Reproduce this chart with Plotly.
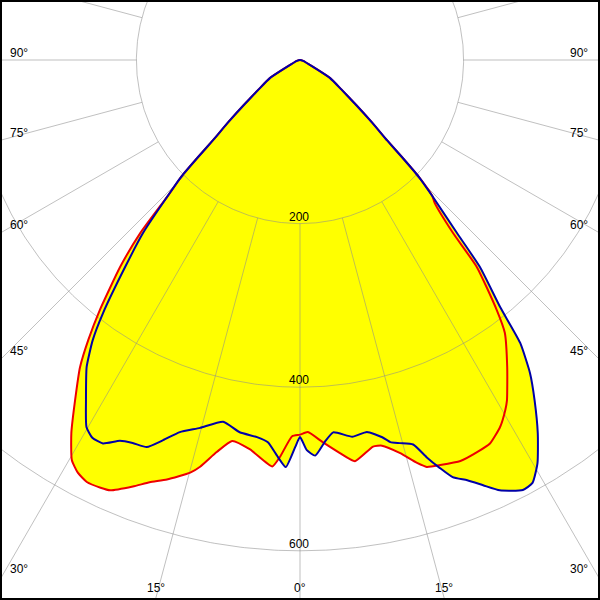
import numpy as np
import plotly.graph_objects as go

# Photometric data: angle from nadir (0° = straight down), negative = left half; intensity in cd
red_angles = [-90, -75, -62, -59, -54.6, -51.3, -49.1, -47.3, -46.4, -45.5, -44.2,
              -42.7, -41.0, -38.7, -37.1, -35.6, -33.5, -31.5, -29.7, -28.3, -26.8,
              -25.0, -23.8, -21.4, -19.6, -17.6, -14.9, -13.8, -12.0, -10.1, -7.3,
              -3.9, -2.9, -1.2, 0,
              1.2, 3.4, 5.8, 7.8, 10.7, 12.0, 14.3, 16.2, 17.3, 19.1, 21.8, 24.3,
              26.4, 28.6, 30.4, 31.3, 34.0, 36.9, 38.2, 40.5, 41.5, 43.3, 44.2,
              45.5, 46.4, 47.3, 49.1, 51.3, 54.6, 59, 62, 75, 90]
red_cd = [0, 4, 19, 43, 62, 88, 116, 145, 172, 203, 232,
          288, 335, 391, 429, 462, 498, 535, 563, 573, 578,
          577, 575, 560, 548, 538, 522, 512, 490, 473, 480,
          498, 486, 460, 458,
          455, 468, 483, 495, 481, 482, 496, 513, 521, 524, 528, 526,
          523, 511, 496, 487, 453, 417, 389, 333, 282, 240, 232,
          203, 172, 145, 116, 88, 62, 43, 19, 4, 0]

blue_angles = [-90, -75, -62, -59, -54.6, -51.3, -49.1, -47.3, -46.4, -45.5, -44.2,
               -42.2, -40.2, -37.9, -36.5, -34.8, -32.2, -30.2, -28.8, -27.2, -25.3,
               -23.6, -21.6, -19.8, -17.9, -15.2, -12.0, -9.2, -6.5, -4.8, -3.2,
               -2.0, -0.7, 0,
               1.0, 2.2, 3.7, 5.1, 7.9, 10.2, 12.3, 13.3, 14.6, 16.4, 17.7, 18.9,
               20.1, 21.7, 23.3, 24.9, 27.4, 28.8, 30.5, 32.5, 34.6, 36.3, 37.9,
               39.0, 41.0, 42.2, 44.2, 45.5, 46.4, 47.3, 49.1, 51.3, 54.6, 59, 62, 75, 90]
blue_cd = [0, 4, 19, 43, 62, 88, 116, 145, 172, 203, 232,
           286, 331, 392, 426, 457, 491, 519, 527, 527, 515,
           511, 509, 494, 478, 466, 452, 461, 464, 469, 486,
           498, 473, 461,
           477, 484, 468, 457, 465, 462, 472, 480, 484, 490, 510, 527,
           543, 553, 566, 580, 592, 590, 572, 541, 505, 475, 438,
           389, 335, 286, 232, 203, 172, 145, 116, 88, 62, 43, 19, 4, 0]

ring_values = [200, 400, 600, 800]
ring_labels = ["200", "400", "600"]
spoke_step = 15
angle_ticks = [0, 15, 30, 45, 60, 75, 90]

# ---- layout constants ----
W = H = 600
FRAME = 2
CX, CY = 300, 60          # pixel position of the pole
SCALE = 0.818             # pixels per cd
x_range = [-(CX - FRAME) / SCALE, (W - FRAME - CX) / SCALE]
y_range = [-(H - FRAME - CY) / SCALE, (CY - FRAME) / SCALE]


def to_xy(ang_deg, r):
    a = np.radians(np.asarray(ang_deg, dtype=float))
    r = np.asarray(r, dtype=float)
    return r * np.sin(a), -r * np.cos(a)


rx, ry = to_xy(red_angles, red_cd)
bx, by = to_xy(blue_angles, blue_cd)

fig = go.Figure()

# yellow fill (union of both curves)
for xs, ys in ((rx, ry), (bx, by)):
    fig.add_trace(go.Scatter(x=xs, y=ys, mode="lines", fill="toself",
                             fillcolor="#ffff00", line_shape="spline",
                             line=dict(width=0, color="#ffff00", smoothing=0.5),
                             hoverinfo="skip"))

# grid: rings and spokes
gx, gy = [], []
t = np.linspace(0, 360, 721)
for rv in ring_values:
    x, y = to_xy(t, np.full_like(t, rv))
    gx += list(x) + [None]
    gy += list(y) + [None]
for a in range(-180, 180, spoke_step):
    x, y = to_xy([a, a], [ring_values[0], 2000])
    gx += list(x) + [None]
    gy += list(y) + [None]
fig.add_trace(go.Scatter(x=gx, y=gy, mode="lines",
                         line=dict(color="rgba(140,140,140,0.55)", width=1),
                         hoverinfo="skip"))

fig.add_trace(go.Scatter(x=rx, y=ry, mode="lines", line_shape="spline",
                         line=dict(color="#ee0000", width=2, smoothing=0.5), hoverinfo="skip"))
fig.add_trace(go.Scatter(x=bx, y=by, mode="lines", line_shape="spline",
                         line=dict(color="#0000a8", width=2, smoothing=0.5), hoverinfo="skip"))

font = dict(family="Liberation Sans, Arial, sans-serif", size=12, color="black")
ann = []
# ring labels
for lab, rv in zip(ring_labels, ring_values):
    ann.append(dict(x=0, y=-rv, text=lab, showarrow=False, xanchor="center",
                    yanchor="middle", yshift=7, xshift=-1, font=font))


def exit_point(theta):
    dx, dy = np.sin(np.radians(theta)), -np.cos(np.radians(theta))
    ts = []
    if dx > 1e-9:
        ts.append((x_range[1] / dx, "right"))
    if dx < -1e-9:
        ts.append((x_range[0] / dx, "left"))
    if dy < -1e-9:
        ts.append((y_range[0] / dy, "bottom"))
    tt, side = min(ts, key=lambda v: v[0])
    return tt * dx, tt * dy, side


for a in angle_ticks:
    for th in ([0] if a == 0 else [-a, a]):
        ex, ey, side = exit_point(th)
        txt = f"{a}°"
        if side == "bottom":
            ann.append(dict(x=ex, y=y_range[0], text=txt, showarrow=False,
                            xanchor="center", yanchor="middle", yshift=10, font=font))
        elif side == "left":
            ann.append(dict(x=x_range[0], y=ey, text=txt, showarrow=False,
                            xanchor="left", yanchor="middle", xshift=6, yshift=7, font=font))
        else:
            ann.append(dict(x=x_range[1], y=ey, text=txt, showarrow=False,
                            xanchor="right", yanchor="middle", xshift=-8, yshift=7, font=font))

fig.update_layout(
    width=W, height=H,
    margin=dict(l=FRAME, r=FRAME, t=FRAME, b=FRAME, pad=0),
    paper_bgcolor="black", plot_bgcolor="white",
    showlegend=False,
    xaxis=dict(range=x_range, visible=False, fixedrange=True),
    yaxis=dict(range=y_range, visible=False, fixedrange=True),
    annotations=ann,
)

fig.write_html(
    "out.html",
    config={"displayModeBar": False},
    post_script="document.body.style.margin='0';document.body.style.overflow='hidden';",
)
